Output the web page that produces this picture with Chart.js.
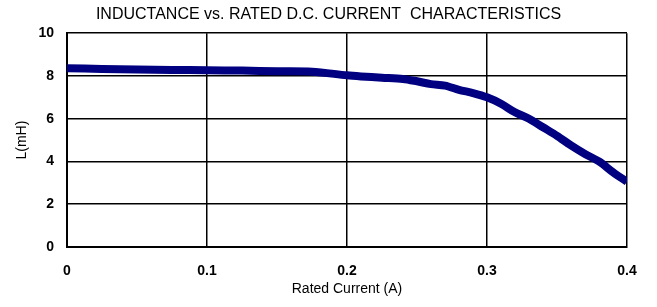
<!DOCTYPE html>
<html>
<head>
<meta charset="utf-8">
<script src="https://cdn.jsdelivr.net/npm/chart.js@4"></script>
<style>
  html, body { margin: 0; padding: 0; background: #fff; }
  #wrap { width: 657px; height: 307px; }
</style>
</head>
<body>
<div id="wrap"><canvas id="myChart"></canvas></div>
<script>
const currentA = [0, 0.025, 0.05, 0.075, 0.1, 0.125, 0.15, 0.175, 0.2, 0.21, 0.225, 0.24, 0.25, 0.26, 0.27, 0.28, 0.29, 0.3, 0.31, 0.32, 0.33, 0.34, 0.35, 0.36, 0.37, 0.38, 0.39, 0.4];
const inductanceMH = [8.36, 8.33, 8.3, 8.28, 8.27, 8.25, 8.22, 8.2, 8.03, 7.98, 7.92, 7.86, 7.75, 7.62, 7.55, 7.35, 7.2, 7.0, 6.7, 6.3, 6.0, 5.6, 5.2, 4.75, 4.35, 4.0, 3.5, 3.05];
const xTicks = [0, 0.1, 0.2, 0.3, 0.4];
const yTicks = [0, 2, 4, 6, 8, 10];

const chartTitle = "INDUCTANCE vs. RATED D.C. CURRENT  CHARACTERISTICS";
const xTitle = "Rated Current (A)";
const yTitle = "L(mH)";

const points = currentA.map((x, i) => ({ x: x, y: inductanceMH[i] }));

const fontFam = 'Liberation Sans, Arial, sans-serif';

const ctx = document.getElementById('myChart').getContext('2d');

const myChart = new Chart(ctx, {
    type: 'line',
    data: {
        datasets: [{
            data: points,
            borderColor: '#000080',
            borderWidth: 8,
            pointRadius: 0,
            tension: 0.3,
            fill: false
        }]
    },
    options: {
        responsive: true,
        maintainAspectRatio: false,
        animation: false,
        layout: { padding: 0 },
        plugins: {
            legend: { display: false },
            tooltip: { enabled: false },
            title: {
                display: true,
                text: chartTitle,
                color: '#000',
                font: { family: fontFam, size: 16, weight: 'normal' },
                padding: { top: 5, bottom: 9 }
            }
        },
        scales: {
            x: {
                type: 'linear',
                min: 0,
                max: 0.4,
                afterBuildTicks: (scale) => { scale.ticks = xTicks.map(v => ({ value: v })); },
                afterFit: (scale) => { scale.height = 60; },
                grid: { color: '#000', lineWidth: 1.5, drawTicks: false },
                border: { color: '#000', width: 2 },
                ticks: {
                    color: '#000',
                    padding: 16,
                    font: { family: fontFam, size: 14, weight: 'bold' },
                    callback: (v) => v === 0 ? '0' : String(v)
                },
                title: {
                    display: true,
                    text: xTitle,
                    color: '#000',
                    font: { family: fontFam, size: 14 },
                    padding: { top: 0, bottom: 9 }
                }
            },
            y: {
                min: 0,
                max: 10,
                afterBuildTicks: (scale) => { scale.ticks = yTicks.map(v => ({ value: v })); },
                afterFit: (scale) => { scale.width = 67; },
                grid: { color: '#000', lineWidth: 1.5, drawTicks: false },
                border: { color: '#000', width: 2 },
                ticks: {
                    color: '#000',
                    padding: 13,
                    font: { family: fontFam, size: 14, weight: 'bold' }
                },
                title: {
                    display: true,
                    text: yTitle,
                    color: '#000',
                    font: { family: fontFam, size: 14 },
                    padding: { top: 14, bottom: 0 }
                }
            },
            // empty right-hand strip so the title centres on the whole canvas
            yRight: {
                position: 'right',
                grid: { display: false, drawTicks: false },
                border: { display: false },
                ticks: { display: false },
                afterFit: (scale) => { scale.width = 30; }
            }
        }
    }
});
</script>
</body>
</html>
